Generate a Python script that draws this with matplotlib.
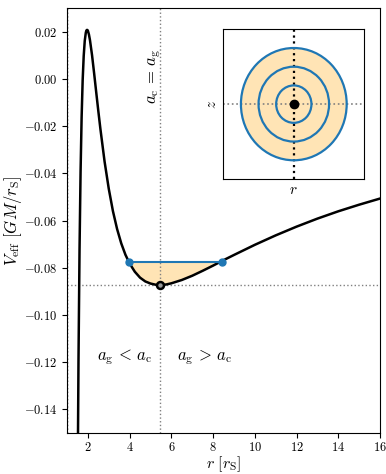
import numpy as np
import matplotlib
matplotlib.use("Agg")
import matplotlib.pyplot as plt
from matplotlib.ticker import FuncFormatter

plt.rcParams['mathtext.fontset'] = 'cm'
plt.rcParams['font.family'] = 'serif'

# effective potential, r in r_S, V in GM/r_S
r = [1.45, 1.5, 1.55, 1.6, 1.65, 1.7, 1.75, 1.8, 1.85, 1.9, 1.925, 1.95, 1.975,
     2.0, 2.05, 2.1, 2.2, 2.3, 2.4, 2.5, 2.6, 2.8, 3.0, 3.2, 3.4, 3.6, 3.8,
     4.0, 4.25, 4.5, 4.75, 5.0, 5.25, 5.5, 5.75, 6.0, 6.5, 7.0, 7.5, 8.0,
     8.5, 9.0, 10.0, 11.0, 12.0, 13.0, 14.0, 15.0, 16.0]
v_eff = [-0.2810, -0.1860, -0.1193, -0.0723, -0.0393, -0.0163, -0.0006, 0.0097,
         0.0161, 0.0195, 0.0204, 0.0207, 0.0207, 0.0204, 0.0188, 0.0164, 0.0100,
         0.0023, -0.0057, -0.0136, -0.0212, -0.0350, -0.0465, -0.0560, -0.0636,
         -0.0697, -0.0745, -0.0782, -0.0817, -0.0842, -0.0858, -0.0867, -0.0872,
         -0.0873, -0.0871, -0.0866, -0.0852, -0.0834, -0.0813, -0.0791, -0.0768,
         -0.0746, -0.0703, -0.0663, -0.0626, -0.0592, -0.0561, -0.0533, -0.0507]

r_turn = [3.97, 8.42]
energy = -0.0774
r_min = 5.46
v_min = -0.0873
r_horizon = 1.0

ring_radii = [1, 2, 3]

fig = plt.figure(figsize=(3.86, 4.74), dpi=100)
ax = fig.add_axes([0.1736, 0.0865, 0.8109, 0.8966])

r_arr = np.array(r)
v_arr = np.array(v_eff)
inside = (r_arr >= r_turn[0] - 0.3) & (r_arr <= r_turn[1] + 0.6)
ax.fill_between(r_arr[inside], v_arr[inside], energy, where=v_arr[inside] <= energy,
                interpolate=True, color='moccasin', lw=0, zorder=1)
ax.plot(r, v_eff, color='k', lw=1.8, zorder=3)
ax.axvline(r_horizon, color='k', ls=':', lw=1)
ax.axvline(r_min, color='gray', ls=':', lw=1, zorder=2)
ax.axhline(v_min, color='gray', ls=':', lw=1, zorder=2)
ax.plot(r_turn, [energy, energy], color='tab:blue', lw=1.5, marker='o', ms=5, zorder=4)
ax.plot([r_min], [v_min], marker='o', ms=5, mfc='0.6', mec='k', mew=1.8, zorder=5)

ax.text(5.17, 0.001, r'$a_{\rm c}\,=\,a_{\rm g}$', rotation=90, ha='center', va='center', fontsize=12)
ax.text(3.75, -0.118, r'$a_{\rm g}\,<\,a_{\rm c}$', ha='center', va='center', fontsize=12)
ax.text(7.6, -0.118, r'$a_{\rm g}\,>\,a_{\rm c}$', ha='center', va='center', fontsize=12)

ax.set_xlim(1, 16)
ax.set_ylim(-0.15, 0.03)
ax.set_xticks([2, 4, 6, 8, 10, 12, 14, 16])
ax.set_yticks([0.02, 0.0, -0.02, -0.04, -0.06, -0.08, -0.10, -0.12, -0.14])
ax.xaxis.set_major_formatter(FuncFormatter(lambda x, p: r'$%d$' % x))
ax.yaxis.set_major_formatter(FuncFormatter(lambda y, p: r'$%.2f$' % y))
ax.tick_params(labelsize=9)
ax.tick_params(axis='x', pad=2)
ax.set_xlabel(r'$r\ [r_{\rm S}]$', fontsize=11.5)
ax.set_ylabel(r'$V_{\rm eff}$ $[GM/r_{\rm S}]$', fontsize=12)
ax.xaxis.set_label_coords(0.5, -0.05)
ax.yaxis.set_label_coords(-0.137, 0.5)

# inset: rings seen in the r-z plane
ins = fig.add_axes([0.5785, 0.6224, 0.3653, 0.3158])
ins.add_patch(plt.Circle((0, 0), max(ring_radii), color='moccasin', lw=0, zorder=1))
for rad in ring_radii:
    ins.add_patch(plt.Circle((0, 0), rad, fill=False, ec='tab:blue', lw=1.6, zorder=3))
ins.axvline(0, color='k', ls=':', lw=1.6, zorder=2)
ins.axhline(0, color='gray', ls=':', lw=1.2, zorder=2)
ins.plot([0], [0], 'ko', ms=6, zorder=4)
ins.set_xlim(-4, 4)
ins.set_ylim(-4, 4)
ins.set_xticks([])
ins.set_yticks([])
ins.set_xlabel(r'$r$', fontsize=11, labelpad=3)
ins.set_ylabel(r'$z$', fontsize=11, labelpad=3)

fig.savefig('out.png', dpi=100)
